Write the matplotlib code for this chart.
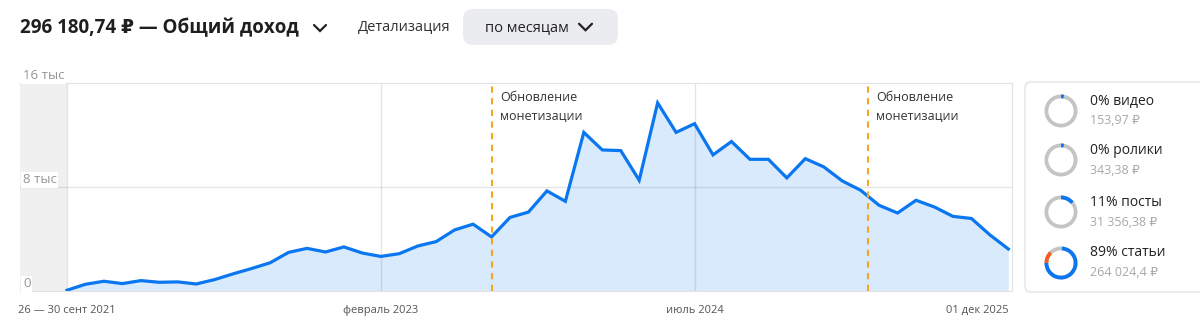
import matplotlib
matplotlib.use("Agg")
import matplotlib.pyplot as plt
from matplotlib.patches import FancyBboxPatch, Wedge
from matplotlib.lines import Line2D
from matplotlib.transforms import blended_transform_factory

plt.rcParams['font.family'] = ['Open Sans', 'DejaVu Sans']

# monthly income, Sep 2021 .. Dec 2025 (rubles)
income = [60, 520, 750, 570, 800, 670, 700, 540, 880, 1320, 1730, 2170,
          2970, 3280, 3000, 3390, 2920, 2660, 2870, 3460, 3800, 4700, 5140, 4160,
          5660, 6070, 7700, 6900, 12200, 10850, 10800, 8520, 14470, 12200,
          12870, 10470, 11500, 10130, 10130, 8700, 10180, 9550,
          8470, 7750, 6590, 6000, 6980, 6460, 5740, 5580, 4320, 3230]
months = list(range(len(income)))

tick_pos = [0, 17, 34, 51]
tick_labels = ["26 — 30 сент 2021", "февраль 2023", "июль 2024", "01 дек 2025"]
y_ticks = [0, 8000, 16000]
y_labels = ["0", "8 тыс", "16 тыс"]
updates = [23, 43.4]   # "Обновление монетизации" markers (month index)

# legend
leg_names = ["0% видео", "0% ролики", "11% посты", "89% статьи"]
leg_sums = ["153,97 ₽", "343,38 ₽", "31 356,38 ₽", "264 024,4 ₽"]
# arcs on each ring: (start, end, colour) as fraction of the circle from top, clockwise
leg_arcs = [[(0.0, 0.03, '#0a77f0')],
            [(0.0, 0.03, '#0a77f0')],
            [(0.0, 0.14, '#0a77f0')],
            [(0.01, 0.75, '#0a77f0'), (0.75, 0.875, '#ff5a1f')]]

W, H = 1200, 327
fig = plt.figure(figsize=(W / 100, H / 100), dpi=100)

# --- main chart ---
L, R, T, B = 20, 1012, 83, 291
ax = fig.add_axes([L / W, (H - B) / H, (R - L) / W, (B - T) / H])
ax.set_xlim(-2.55, 51.2)
ax.set_ylim(0, 16000)

ax.axvspan(-2.55, 0, color='#f0f0f0', lw=0, zorder=0)
ax.fill_between(months, income, color='#d9eafc', lw=0, zorder=1)
for p in tick_pos[:3]:
    ax.axvline(p, color='black', alpha=0.1, lw=1, zorder=2)
ax.axhline(8000, color='black', alpha=0.1, lw=1, zorder=2)
ax.plot(months, income, color='#0a77f0', lw=2.3, solid_joinstyle='miter', zorder=4)

for u in updates:
    ax.axvline(u, color='#f5a623', lw=1.5, ls=(0, (3, 2.6)), zorder=5)
    ax.text(u + 0.45, 15350, "Обновление\nмонетизации", fontsize=9, color='#333333',
            va='top', ha='left', linespacing=1.55, zorder=6)

trans = blended_transform_factory(ax.transAxes, ax.transData)
for v, lab in zip(y_ticks, y_labels):
    ax.text(0.003, v + 540, lab, transform=trans, fontsize=9.5, color='#959595',
            ha='left', va='center', clip_on=False, zorder=7,
            bbox=dict(boxstyle='square,pad=0.12', fc='white', ec='none'))

ax.set_xticks(tick_pos)
ax.set_xticklabels(tick_labels, fontsize=8, color='#555555')
ax.get_xticklabels()[-1].set_ha('right')
ax.tick_params(axis='x', length=0, pad=10)
ax.set_yticks([])
for s in ['top', 'right', 'bottom']:
    ax.spines[s].set_color('#e2e2e2')
ax.spines['left'].set_visible(False)

# --- overlay in pixel coordinates for header and legend ---
ov = fig.add_axes([0, 0, 1, 1])
ov.set_xlim(0, W)
ov.set_ylim(0, H)
ov.axis('off')


def P(y):
    return H - y


def chevron(x, y, w=12, h=6, lw=1.6, color='#222222'):
    ov.add_line(Line2D([x, x + w / 2, x + w], [P(y - h / 2), P(y + h / 2), P(y - h / 2)],
                       color=color, lw=lw, solid_capstyle='round', solid_joinstyle='miter'))


ov.text(20, P(28), "296 180,74 ₽ — Общий доход", fontsize=13.5, fontweight='bold',
        color='#1f1f1f', va='center', ha='left')
chevron(314, 28)
ov.text(358, P(28), "Детализация", fontsize=10.5, color='#333333', va='center', ha='left')
ov.add_patch(FancyBboxPatch((463, P(45)), 155, 36, boxstyle='round,pad=0,rounding_size=10',
                            fc='#ebecef', ec='none'))
ov.text(485, P(28), "по месяцам", fontsize=10.5, color='#222222', va='center', ha='left')
chevron(579, 27, w=13, h=6.5)

# legend panel
ov.add_patch(FancyBboxPatch((1025, P(292)), 190, 210, boxstyle='round,pad=0,rounding_size=6',
                            fc='white', ec='#e3e3e3', lw=1))
cy = [111, 160, 212, 263]
for yc, name, amount, arcs in zip(cy, leg_names, leg_sums, leg_arcs):
    ov.add_patch(Wedge((1061, P(yc)), 16.5, 0, 360, width=3.8, fc='#c4c4c4', ec='none'))
    for a, b, c in arcs:
        ov.add_patch(Wedge((1061, P(yc)), 16.5, 90 - 360 * b, 90 - 360 * a, width=3.8,
                           fc=c, ec='none'))
    ov.text(1090, P(yc - 10), name, fontsize=10, color='#222222', va='center', ha='left')
    ov.text(1090, P(yc + 10), amount, fontsize=9, color='#a8a8a8', va='center', ha='left')

fig.savefig("out.png", dpi=100)
